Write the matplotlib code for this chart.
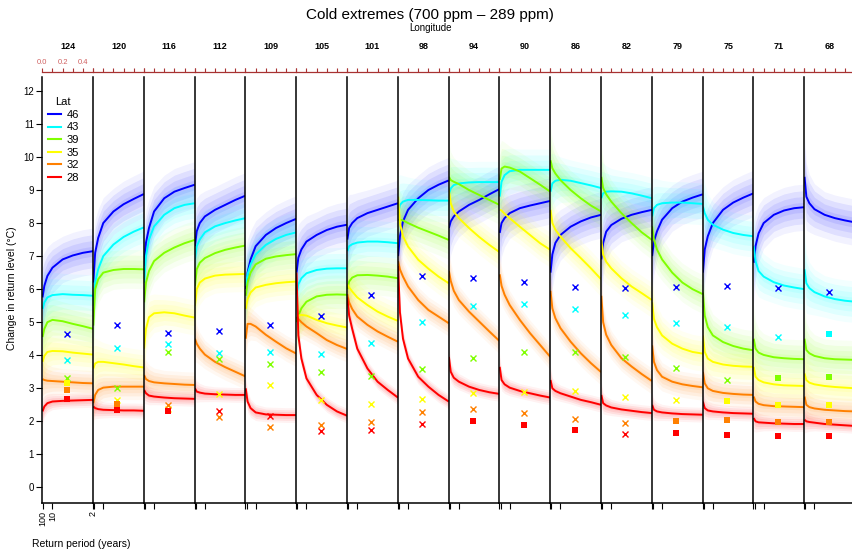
import numpy as np
import matplotlib.pyplot as plt
from matplotlib.lines import Line2D

plt.rcParams['font.family'] = ['Liberation Sans', 'DejaVu Sans']

# panel longitudes (deg W) and latitude bands
longitudes = [124, 120, 116, 112, 109, 105, 101, 98, 94, 90, 86, 82, 79, 75, 71, 68]
lat_labels = ['46', '43', '39', '35', '32', '28']
lat_colors = ['#0000FF', '#00FFFF', '#80FF00', '#FFFF00', '#FF8000', '#FF0000']

# exceedance probability (1 / return period) along each panel
ret_p = [0.002, 0.02, 0.05, 0.1, 0.2, 0.3, 0.4, 0.5]

# ensemble median change in return level, one row per longitude
lat46 = [
    [5.75, 6.1, 6.4, 6.65, 6.9, 7.02, 7.1, 7.15],
    [6.2, 7.1, 7.55, 8.0, 8.35, 8.57, 8.73, 8.88],
    [6.7, 7.4, 7.85, 8.35, 8.75, 8.95, 9.06, 9.16],
    [7.3, 7.75, 8.0, 8.2, 8.4, 8.55, 8.7, 8.83],
    [6.0, 6.5, 6.9, 7.3, 7.64, 7.85, 8.0, 8.13],
    [6.5, 6.95, 7.2, 7.44, 7.64, 7.79, 7.89, 7.95],
    [7.5, 7.85, 8.0, 8.15, 8.3, 8.4, 8.5, 8.6],
    [7.0, 7.6, 8.05, 8.4, 8.75, 9.0, 9.16, 9.29],
    [7.85, 8.05, 8.2, 8.35, 8.55, 8.7, 8.87, 9.03],
    [7.7, 8.0, 8.15, 8.3, 8.45, 8.53, 8.6, 8.67],
    [6.5, 7.05, 7.4, 7.64, 7.89, 8.05, 8.17, 8.25],
    [6.9, 7.4, 7.74, 7.94, 8.13, 8.25, 8.33, 8.4],
    [7.0, 7.45, 7.75, 8.1, 8.45, 8.65, 8.77, 8.87],
    [6.5, 7.2, 7.6, 8.0, 8.4, 8.62, 8.77, 8.9],
    [6.8, 7.3, 7.69, 8.0, 8.25, 8.38, 8.45, 8.48],
    [9.4, 8.8, 8.6, 8.42, 8.25, 8.15, 8.08, 8.02],
]
lat43 = [
    [5.4, 5.6, 5.75, 5.82, 5.85, 5.83, 5.82, 5.8],
    [5.5, 6.2, 6.6, 7.0, 7.35, 7.58, 7.74, 7.87],
    [6.2, 7.0, 7.5, 7.9, 8.25, 8.45, 8.55, 8.6],
    [6.9, 7.3, 7.5, 7.72, 7.9, 8.0, 8.08, 8.15],
    [6.1, 6.45, 6.75, 7.05, 7.34, 7.52, 7.64, 7.72],
    [5.85, 6.15, 6.33, 6.48, 6.58, 6.62, 6.63, 6.63],
    [7.15, 7.3, 7.36, 7.41, 7.44, 7.44, 7.42, 7.39],
    [8.3, 8.55, 8.65, 8.7, 8.7, 8.69, 8.68, 8.68],
    [8.85, 9.05, 9.15, 9.2, 9.23, 9.24, 9.24, 9.24],
    [8.8, 9.25, 9.45, 9.57, 9.61, 9.61, 9.61, 9.61],
    [8.95, 9.2, 9.28, 9.31, 9.28, 9.21, 9.14, 9.06],
    [8.75, 8.9, 8.95, 8.96, 8.95, 8.9, 8.83, 8.75],
    [8.2, 8.45, 8.55, 8.6, 8.62, 8.62, 8.6, 8.58],
    [8.5, 8.3, 8.1, 7.95, 7.8, 7.7, 7.64, 7.6],
    [7.3, 6.85, 6.55, 6.38, 6.21, 6.11, 6.05, 6.0],
    [6.6, 6.18, 6.03, 5.91, 5.78, 5.7, 5.65, 5.62],
]
lat39 = [
    [4.55, 4.8, 5.0, 5.07, 5.03, 4.95, 4.88, 4.8],
    [4.9, 6.0, 6.3, 6.5, 6.58, 6.61, 6.61, 6.6],
    [5.6, 6.2, 6.55, 6.85, 7.1, 7.26, 7.39, 7.49],
    [6.1, 6.6, 6.8, 6.94, 7.09, 7.19, 7.26, 7.32],
    [5.8, 6.2, 6.5, 6.75, 6.92, 6.99, 7.03, 7.06],
    [5.0, 5.2, 5.42, 5.62, 5.78, 5.83, 5.84, 5.83],
    [6.0, 6.23, 6.35, 6.42, 6.43, 6.41, 6.38, 6.33],
    [8.1, 8.1, 8.08, 8.0, 7.86, 7.74, 7.62, 7.49],
    [9.4, 9.3, 9.25, 9.18, 9.0, 8.85, 8.7, 8.55],
    [9.3, 9.65, 9.71, 9.68, 9.56, 9.36, 9.16, 8.95],
    [9.9, 9.66, 9.5, 9.3, 9.0, 8.75, 8.53, 8.35],
    [9.4, 9.06, 8.87, 8.65, 8.3, 8.0, 7.72, 7.49],
    [7.9, 7.5, 7.2, 6.9, 6.5, 6.2, 6.0, 5.85],
    [5.9, 5.2, 4.85, 4.6, 4.4, 4.28, 4.2, 4.15],
    [4.5, 4.2, 4.08, 4.01, 3.94, 3.91, 3.89, 3.88],
    [4.5, 4.16, 4.06, 3.98, 3.91, 3.88, 3.87, 3.86],
]
lat35 = [
    [3.8, 3.98, 4.1, 4.13, 4.12, 4.08, 4.05, 4.02],
    [3.6, 3.75, 3.8, 3.8, 3.76, 3.72, 3.67, 3.63],
    [4.2, 4.8, 5.15, 5.27, 5.3, 5.27, 5.2, 5.14],
    [5.5, 6.0, 6.2, 6.32, 6.41, 6.44, 6.45, 6.46],
    [5.4, 5.7, 5.9, 6.05, 6.13, 6.18, 6.21, 6.23],
    [5.1, 5.2, 5.22, 5.2, 5.07, 4.97, 4.9, 4.84],
    [6.15, 6.05, 5.93, 5.75, 5.52, 5.32, 5.17, 5.04],
    [8.8, 8.0, 7.6, 7.29, 6.89, 6.62, 6.38, 6.18],
    [9.0, 8.6, 8.35, 8.15, 7.85, 7.58, 7.34, 7.12],
    [8.4, 8.38, 8.28, 8.15, 7.89, 7.64, 7.39, 7.19],
    [8.4, 8.0, 7.8, 7.59, 7.24, 6.94, 6.63, 6.3],
    [7.5, 7.04, 6.83, 6.63, 6.33, 6.08, 5.88, 5.67],
    [5.6, 5.1, 4.85, 4.6, 4.35, 4.2, 4.1, 4.05],
    [4.6, 4.1, 3.9, 3.8, 3.72, 3.68, 3.66, 3.65],
    [3.65, 3.35, 3.25, 3.18, 3.12, 3.09, 3.08, 3.07],
    [3.45, 3.25, 3.17, 3.12, 3.07, 3.04, 3.02, 3.0],
]
lat32 = [
    [3.28, 3.25, 3.23, 3.22, 3.2, 3.18, 3.16, 3.15],
    [2.55, 2.8, 2.95, 3.02, 3.05, 3.05, 3.05, 3.05],
    [3.4, 3.28, 3.22, 3.18, 3.15, 3.13, 3.11, 3.1],
    [4.5, 4.35, 4.2, 4.02, 3.8, 3.64, 3.5, 3.36],
    [4.5, 4.95, 4.95, 4.87, 4.62, 4.41, 4.21, 4.05],
    [5.15, 5.1, 5.0, 4.87, 4.67, 4.46, 4.31, 4.19],
    [5.85, 5.6, 5.4, 5.17, 4.92, 4.72, 4.56, 4.41],
    [6.85, 6.6, 6.38, 6.08, 5.67, 5.37, 5.17, 4.97],
    [6.55, 6.25, 5.95, 5.67, 5.32, 5.02, 4.72, 4.43],
    [6.45, 6.1, 5.83, 5.52, 5.07, 4.67, 4.31, 3.95],
    [5.95, 5.42, 5.12, 4.82, 4.41, 4.06, 3.76, 3.49],
    [5.8, 5.0, 4.62, 4.31, 3.91, 3.66, 3.43, 3.22],
    [4.3, 3.8, 3.55, 3.35, 3.2, 3.12, 3.07, 3.03],
    [3.5, 3.15, 3.0, 2.92, 2.86, 2.83, 2.81, 2.8],
    [2.75, 2.6, 2.53, 2.49, 2.46, 2.45, 2.44, 2.43],
    [2.75, 2.5, 2.43, 2.39, 2.35, 2.33, 2.31, 2.3],
]
lat28 = [
    [2.3, 2.45, 2.55, 2.6, 2.62, 2.63, 2.64, 2.65],
    [2.45, 2.4, 2.37, 2.35, 2.34, 2.33, 2.33, 2.32],
    [2.95, 2.85, 2.78, 2.75, 2.72, 2.7, 2.69, 2.68],
    [3.0, 2.9, 2.87, 2.84, 2.82, 2.81, 2.8, 2.8],
    [3.0, 2.6, 2.4, 2.27, 2.21, 2.2, 2.19, 2.19],
    [6.5, 4.6, 3.9, 3.3, 2.8, 2.5, 2.3, 2.17],
    [5.75, 5.2, 4.8, 4.2, 3.6, 3.2, 2.95, 2.72],
    [6.7, 5.3, 4.5, 3.9, 3.35, 3.05, 2.8, 2.6],
    [3.95, 3.5, 3.32, 3.2, 3.05, 2.95, 2.88, 2.83],
    [3.65, 3.25, 3.12, 3.02, 2.92, 2.85, 2.78, 2.72],
    [3.25, 3.0, 2.92, 2.85, 2.75, 2.65, 2.58, 2.5],
    [2.8, 2.55, 2.48, 2.42, 2.36, 2.32, 2.28, 2.25],
    [2.5, 2.35, 2.3, 2.27, 2.24, 2.22, 2.21, 2.2],
    [2.6, 2.4, 2.33, 2.3, 2.27, 2.25, 2.24, 2.23],
    [2.1, 2.0, 1.97, 1.96, 1.94, 1.93, 1.92, 1.92],
    [2.05, 2.0, 1.98, 1.96, 1.92, 1.9, 1.88, 1.86],
]

# station-based estimates plotted at one exceedance probability
obs_p = 0.24
obs46 = [4.65, 4.92, 4.67, 4.72, 4.92, 5.2, 5.83, 6.4, 6.35, 6.23, 6.08, 6.03, 6.07, 6.1, 6.02, 5.91]
obs43 = [3.86, 4.21, 4.33, 4.06, 4.11, 4.04, 4.36, 5.02, 5.5, 5.54, 5.4, 5.22, 4.97, 4.85, 4.56, 4.64]
obs39 = [3.3, 3.02, 4.09, 3.89, 3.73, 3.5, 3.37, 3.58, 3.91, 4.11, 4.09, 3.94, 3.6, 3.25, 3.3, 3.34]
obs35 = [3.15, 2.65, 2.38, 2.84, 3.1, 2.65, 2.52, 2.68, 2.87, 2.9, 2.92, 2.75, 2.65, 2.62, 2.48, 2.48]
obs32 = [2.95, 2.53, 2.5, 2.14, 1.84, 1.89, 1.97, 2.29, 2.37, 2.24, 2.07, 1.94, 2.0, 2.05, 1.97, 1.97]
obs28 = [2.68, 2.35, 2.3, 2.32, 2.17, 1.71, 1.74, 1.91, 2.01, 1.89, 1.74, 1.62, 1.65, 1.6, 1.56, 1.56]
# 1 = filled square, 0 = cross
sig46 = [0, 0, 0, 0, 0, 0, 0, 0, 0, 0, 0, 0, 0, 0, 0, 0]
sig43 = [0, 0, 0, 0, 0, 0, 0, 0, 0, 0, 0, 0, 0, 0, 0, 1]
sig39 = [0, 0, 0, 0, 0, 0, 0, 0, 0, 0, 0, 0, 0, 0, 1, 1]
sig35 = [1, 0, 0, 0, 0, 0, 0, 0, 0, 0, 0, 0, 0, 1, 1, 1]
sig32 = [1, 1, 0, 0, 0, 0, 0, 0, 0, 0, 0, 0, 1, 1, 1, 1]
sig28 = [1, 1, 1, 0, 0, 0, 0, 0, 1, 1, 1, 0, 1, 1, 1, 1]

medians = [lat46, lat43, lat39, lat35, lat32, lat28]
obs = [obs46, obs43, obs39, obs35, obs32, obs28]
sigs = [sig46, sig43, sig39, sig35, sig32, sig28]

# half width of the ensemble spread per band, wider at long return periods
spread = [0.5, 0.45, 0.42, 0.38, 0.28, 0.16]
taper = np.array([1.8, 1.45, 1.25, 1.1, 1.0, 1.0, 1.0, 1.0])

fig = plt.figure(figsize=(8.53, 5.51), dpi=100)
left, bottom = 42.3 / 853, (551 - 503.3) / 551
pw, ph = 50.8 / 853, (503.3 - 77) / 551

p = np.array(ret_p)
axes = []
for i, lon in enumerate(longitudes):
    ax = fig.add_axes([left + i * pw, bottom, pw, ph])
    axes.append(ax)
    for k in range(6):
        med = np.array(medians[k][i])
        w = spread[k] * taper
        for f, a in ((1.4, 0.05), (1.0, 0.08), (0.65, 0.08), (0.3, 0.08)):
            ax.fill_between(p, med - f * w, med + f * w, color=lat_colors[k],
                            alpha=a, lw=0)
    for k in range(6):
        ax.plot(p, medians[k][i], color=lat_colors[k], lw=1.4, solid_capstyle='butt')
    for k in range(6):
        if sigs[k][i]:
            ax.plot(obs_p, obs[k][i], 's', color=lat_colors[k], ms=4.2, mew=0)
        else:
            ax.plot(obs_p, obs[k][i], 'x', color=lat_colors[k], ms=5, mew=1.0)

    ax.set_xlim(0, 0.5)
    ax.set_ylim(-0.48, 12.42)
    for s in ('top', 'right'):
        ax.spines[s].set_visible(False)
    ax.spines['left'].set_linewidth(1.1)
    ax.spines['bottom'].set_linewidth(1.1)

    # return period ticks along the bottom
    ax.set_xticks([0.01, 0.1, 0.5])
    ax.tick_params(axis='x', direction='out', length=4, width=0.8, pad=1.5,
                   labelsize=6.5, labelrotation=90)
    if i == 0:
        ax.set_xticklabels(['100', '10', '2'])
        ax.set_yticks(range(13))
        ax.tick_params(axis='y', direction='out', length=4, width=0.8, labelsize=7, pad=2)
    else:
        ax.set_xticklabels([])
        ax.tick_params(axis='y', left=False, labelleft=False)

    # probability scale along the top in red
    top = ax.secondary_xaxis(1 + 5 / 426)
    top.set_xticks([0, 0.1, 0.2, 0.3, 0.4, 0.5])
    if i == 0:
        top.set_xticklabels(['0.0', '', '0.2', '', '0.4', ''])
    else:
        top.set_xticklabels([])
    top.spines['top'].set_color('#A83232')
    top.spines['top'].set_linewidth(0.9)
    top.tick_params(axis='x', direction='out', length=3, width=0.8, colors='#A83232',
                    labelcolor='#D06060', labelsize=5.5, pad=1.5)

    ax.text(0.5, 1.0 + 30 / 426, str(lon), transform=ax.transAxes, ha='center',
            va='center', fontsize=6.5, fontweight='bold')

handles = [Line2D([], [], color=c, lw=1.5) for c in lat_colors]
leg = axes[0].legend(handles, lat_labels, title='Lat', loc='upper left',
                     bbox_to_anchor=(-0.02, 0.968), frameon=False, fontsize=8,
                     title_fontsize=8, handlelength=1.15, handletextpad=0.5,
                     labelspacing=0.23, borderaxespad=0.2)

fig.text(430 / 853, 1 - 15 / 551, 'Cold extremes (700 ppm \u2013 289 ppm)',
         ha='center', va='center', fontsize=11)
fig.text(430 / 853, 1 - 28 / 551, 'Longitude', ha='center', va='center', fontsize=7)
fig.text(12 / 853, 1 - 288 / 551, 'Change in return level (\u00b0C)', rotation=90,
         ha='center', va='center', fontsize=7.5)
fig.text(81 / 853, 1 - 544 / 551, 'Return period (years)', ha='center', va='center',
         fontsize=7.5)

plt.savefig('out.png', dpi=100)
